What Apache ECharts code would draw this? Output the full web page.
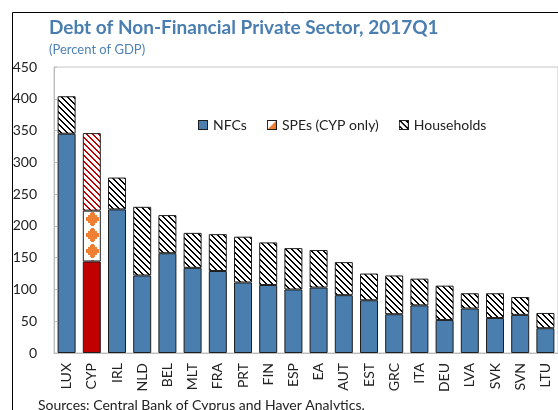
<!DOCTYPE html>
<html>
<head>
<meta charset="utf-8">
<script src="https://cdn.jsdelivr.net/npm/echarts@6/dist/echarts.min.js"></script>
<style>
  html, body { margin: 0; padding: 0; background: #fff; }
  #chart { width: 558px; height: 410px; }
</style>
</head>
<body>
<div id="chart"></div>
<script>
// country codes, left to right
var categories = ['LUX', 'CYP', 'IRL', 'NLD', 'BEL', 'MLT', 'FRA', 'PRT', 'FIN', 'ESP',
    'EA', 'AUT', 'EST', 'GRC', 'ITA', 'DEU', 'LVA', 'SVK', 'SVN', 'LTU'];
// percent of GDP
var nfcValues = [345, 144, 226, 122, 157, 134, 129, 111, 107, 100,
    103, 91, 83, 61, 75, 52, 70, 55, 60, 39];
var speValues = [0, 80, 0, 0, 0, 0, 0, 0, 0, 0,
    0, 0, 0, 0, 0, 0, 0, 0, 0, 0];
var householdValues = [59, 122, 50, 108, 60, 55, 58, 72, 67, 65,
    59, 52, 42, 61, 42, 54, 24, 39, 28, 24];
var yTicks = [0, 50, 100, 150, 200, 250, 300, 350, 400, 450];

var blue = '#4a7eae';
var red = '#c00000';
var orange = '#ef7f33';
var edge = '#1e1e1e';
var font = 'Lato, "DejaVu Sans", sans-serif';

// diagonal hatch tile (top-left to bottom-right)
function hatchTile(color) {
    var c = document.createElement('canvas');
    c.width = 6; c.height = 6;
    var ctx = c.getContext('2d');
    ctx.fillStyle = '#fff';
    ctx.fillRect(0, 0, 6, 6);
    ctx.fillStyle = color;
    for (var i = 0; i < 6; i++) {
        ctx.fillRect(i, i, 1, 1);
        ctx.fillRect((i + 1) % 6, i, 1, 1);
    }
    return c;
}

// stepped orange diamond marks on white for the SPE block
function speTile() {
    var c = document.createElement('canvas');
    c.width = 17; c.height = 16;
    var ctx = c.getContext('2d');
    ctx.fillStyle = '#fff';
    ctx.fillRect(0, 0, 17, 16);
    ctx.fillStyle = orange;
    // centre at (8.5, 8)
    ctx.fillRect(2, 6, 13, 4);
    ctx.fillRect(4, 4, 9, 8);
    ctx.fillRect(6, 2, 5, 12);
    ctx.fillRect(7, 1, 3, 14);
    return c;
}

function legendIcon(kind) {
    var c = document.createElement('canvas');
    c.width = 10; c.height = 10;
    var ctx = c.getContext('2d');
    if (kind === 'nfc') {
        ctx.fillStyle = blue;
        ctx.fillRect(0, 0, 10, 10);
    } else if (kind === 'spe') {
        ctx.fillStyle = '#fff';
        ctx.fillRect(0, 0, 10, 10);
        ctx.fillStyle = orange;
        ctx.beginPath();
        ctx.moveTo(10, 0); ctx.lineTo(10, 10); ctx.lineTo(0, 10);
        ctx.closePath();
        ctx.fill();
    } else {
        ctx.fillStyle = ctx.createPattern(hatchTile('#000'), 'repeat');
        ctx.fillRect(0, 0, 10, 10);
    }
    ctx.strokeStyle = edge;
    ctx.lineWidth = 1;
    ctx.strokeRect(0.5, 0.5, 9, 9);
    return 'image://' + c.toDataURL();
}

var hatchBlack = { image: hatchTile('#000'), repeat: 'repeat' };
var hatchRed = { image: hatchTile(red), repeat: 'repeat' };
var spePattern = { image: speTile(), repeat: 'repeat', x: -1, y: 3 };

var nfcData = nfcValues.map(function (v, i) {
    return categories[i] === 'CYP' ? { value: v, itemStyle: { color: red } } : v;
});
var speData = speValues.map(function (v) { return v || null; });
var hhData = householdValues.map(function (v, i) {
    return categories[i] === 'CYP' ? { value: v, itemStyle: { color: hatchRed } } : v;
});

var chart = echarts.init(document.getElementById('chart'), null, { renderer: 'canvas' });

chart.setOption({
    backgroundColor: '#fff',
    animation: false,
    textStyle: { fontFamily: font },
    title: {
        text: 'Debt of Non-Financial Private Sector, 2017Q1',
        subtext: '(Percent of GDP)',
        left: 49,
        top: 18,
        padding: 0,
        itemGap: 6,
        textStyle: { color: '#4a7eb0', fontSize: 19, fontWeight: 'bold', fontFamily: font },
        subtextStyle: { color: '#4f82b6', fontSize: 13, fontFamily: font }
    },
    legend: {
        left: 198,
        top: 118,
        itemWidth: 10,
        itemHeight: 10,
        itemGap: 20,
        padding: 0,
        textStyle: { color: '#222', fontSize: 14, fontFamily: font },
        data: [
            { name: 'NFCs', icon: legendIcon('nfc') },
            { name: 'SPEs (CYP only)', icon: legendIcon('spe') },
            { name: 'Households', icon: legendIcon('hh') }
        ]
    },
    grid: {
        left: 54,
        top: 67,
        width: 514,
        height: 286,
        containLabel: false,
        show: true,
        borderColor: '#c6c6c6',
        borderWidth: 1
    },
    xAxis: {
        type: 'category',
        data: categories,
        axisLine: { lineStyle: { color: '#bdbdbd' } },
        axisTick: { inside: true, length: 4, lineStyle: { color: '#bdbdbd' } },
        axisLabel: { rotate: 90, margin: 10, color: '#222', fontSize: 14, fontFamily: font }
    },
    yAxis: {
        type: 'value',
        min: yTicks[0],
        max: yTicks[yTicks.length - 1],
        interval: 50,
        axisLine: { show: true, lineStyle: { color: '#bdbdbd' } },
        axisTick: { show: true, inside: true, length: 3, lineStyle: { color: '#bdbdbd' } },
        splitLine: { show: false },
        axisLabel: { margin: 17, color: '#222', fontSize: 14, fontFamily: font }
    },
    series: [
        {
            name: 'NFCs',
            type: 'bar',
            stack: 'debt',
            barWidth: 18,
            data: nfcData,
            itemStyle: { color: blue, borderColor: edge, borderWidth: 1 }
        },
        {
            name: 'SPEs (CYP only)',
            type: 'bar',
            stack: 'debt',
            barWidth: 18,
            data: speData,
            itemStyle: { color: spePattern, borderColor: edge, borderWidth: 1 }
        },
        {
            name: 'Households',
            type: 'bar',
            stack: 'debt',
            barWidth: 18,
            data: hhData,
            itemStyle: { color: hatchBlack, borderColor: edge, borderWidth: 1 }
        }
    ],
    graphic: [
        {
            type: 'rect',
            silent: true,
            shape: { x: 12.5, y: 12.5, width: 700, height: 600 },
            style: { fill: null, stroke: '#000', lineWidth: 1 }
        },
        {
            type: 'text',
            left: 38,
            top: 398,
            style: { text: 'Sources: Central Bank of Cyprus and Haver Analytics.', fill: '#222', font: '14px ' + font }
        }
    ]
});
</script>
</body>
</html>
